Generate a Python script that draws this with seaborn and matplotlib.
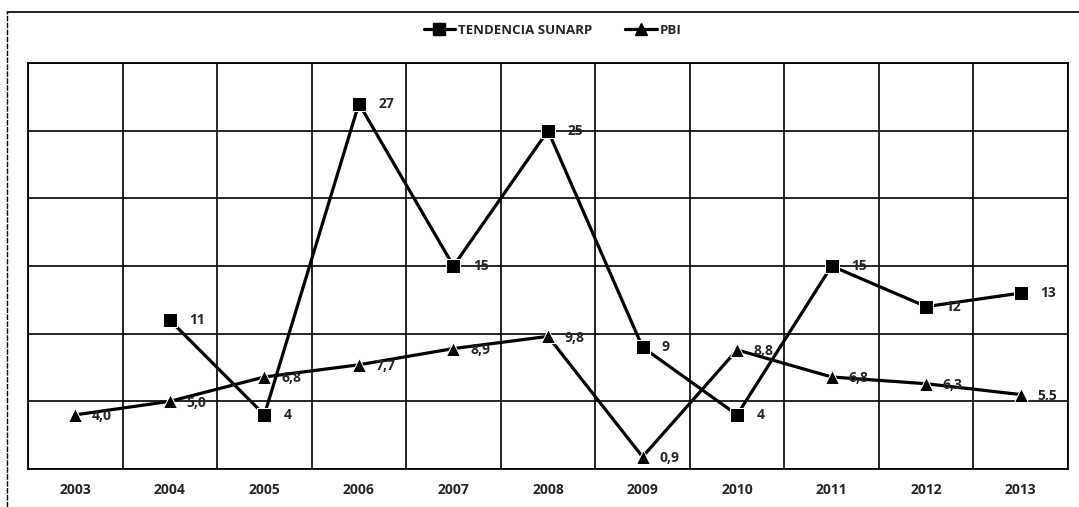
import numpy as np
import pandas as pd
import matplotlib
matplotlib.use("Agg")
import matplotlib.pyplot as plt
from matplotlib.lines import Line2D
import seaborn as sns

years = [2003, 2004, 2005, 2006, 2007, 2008, 2009, 2010, 2011, 2012, 2013]
sunarp = [np.nan, 11, 4, 27, 15, 25, 9, 4, 15, 12, 13]
pbi = [4.0, 5.0, 6.8, 7.7, 8.9, 9.8, 0.9, 8.8, 6.8, 6.3, 5.5]
series_names = ["TENDENCIA SUNARP", "PBI"]

sns.set_theme(style="white")
plt.rcParams['font.family'] = ['Open Sans', 'DejaVu Sans']

df = pd.DataFrame({
    "year": years * 2,
    "value": sunarp + pbi,
    "serie": [series_names[0]] * len(years) + [series_names[1]] * len(years),
})

fig = plt.figure(figsize=(10.79, 5.07), dpi=100)
ax = fig.add_axes([28 / 1079, 1 - 469 / 507, (1068 - 28) / 1079, (469 - 63) / 507])

sns.lineplot(data=df, x="year", y="value", hue="serie", style="serie",
             palette={series_names[0]: "black", series_names[1]: "black"},
             markers={series_names[0]: "s", series_names[1]: "^"},
             dashes=False, markersize=10, linewidth=2.3, legend=False, ax=ax)

ax.set_xlim(years[0] - 0.5, years[-1] + 0.5)
ax.set_ylim(0, 30)
ax.set_xticks(years)
ax.set_xticklabels([str(y) for y in years], fontsize=10, fontweight="bold")
ax.set_xticks([y - 0.5 for y in years] + [years[-1] + 0.5], minor=True)
ax.set_yticks(range(0, 31, 5))
ax.set_yticklabels([])
ax.tick_params(axis="both", which="both", length=0)
ax.tick_params(axis="x", pad=10)
ax.grid(False)
ax.grid(True, axis="x", which="minor", color="black", linewidth=1.2)
ax.grid(True, axis="y", which="major", color="black", linewidth=1.2)
ax.set_xlabel("")
ax.set_ylabel("")
for s in ax.spines.values():
    s.set_color("black")
    s.set_linewidth(1.3)

for x, v in zip(years, sunarp):
    if not np.isnan(v):
        ax.annotate(f"{int(v)}", (x, v), xytext=(14, 0), textcoords="offset points",
                    ha="left", va="center", fontsize=10, fontweight="bold")
for x, v in zip(years, pbi):
    ax.annotate(f"{v:.1f}".replace(".", ","), (x, v), xytext=(12, -1), textcoords="offset points",
                ha="left", va="center", fontsize=10, fontweight="bold")

handles = [Line2D([], [], color="black", marker="s", markersize=8, linewidth=2.3),
           Line2D([], [], color="black", marker="^", markersize=8, linewidth=2.3)]
fig.legend(handles, series_names, loc="center", bbox_to_anchor=(0.512, 0.94), ncol=2,
           frameon=False, prop={"size": 9.5, "weight": "bold"}, handlelength=2.4,
           columnspacing=2.5, handletextpad=0.2)

# outer frame (top and left edges visible in the scan)
fig.add_artist(Line2D([7 / 1079, 1.0], [1 - 12 / 507, 1 - 12 / 507], color="black", linewidth=1.2,
                      transform=fig.transFigure))
fig.add_artist(Line2D([7 / 1079, 7 / 1079], [0, 1 - 12 / 507], color="black", linewidth=1.0,
                      linestyle=(0, (4, 1)), transform=fig.transFigure))

fig.savefig("out.png", dpi=100)
